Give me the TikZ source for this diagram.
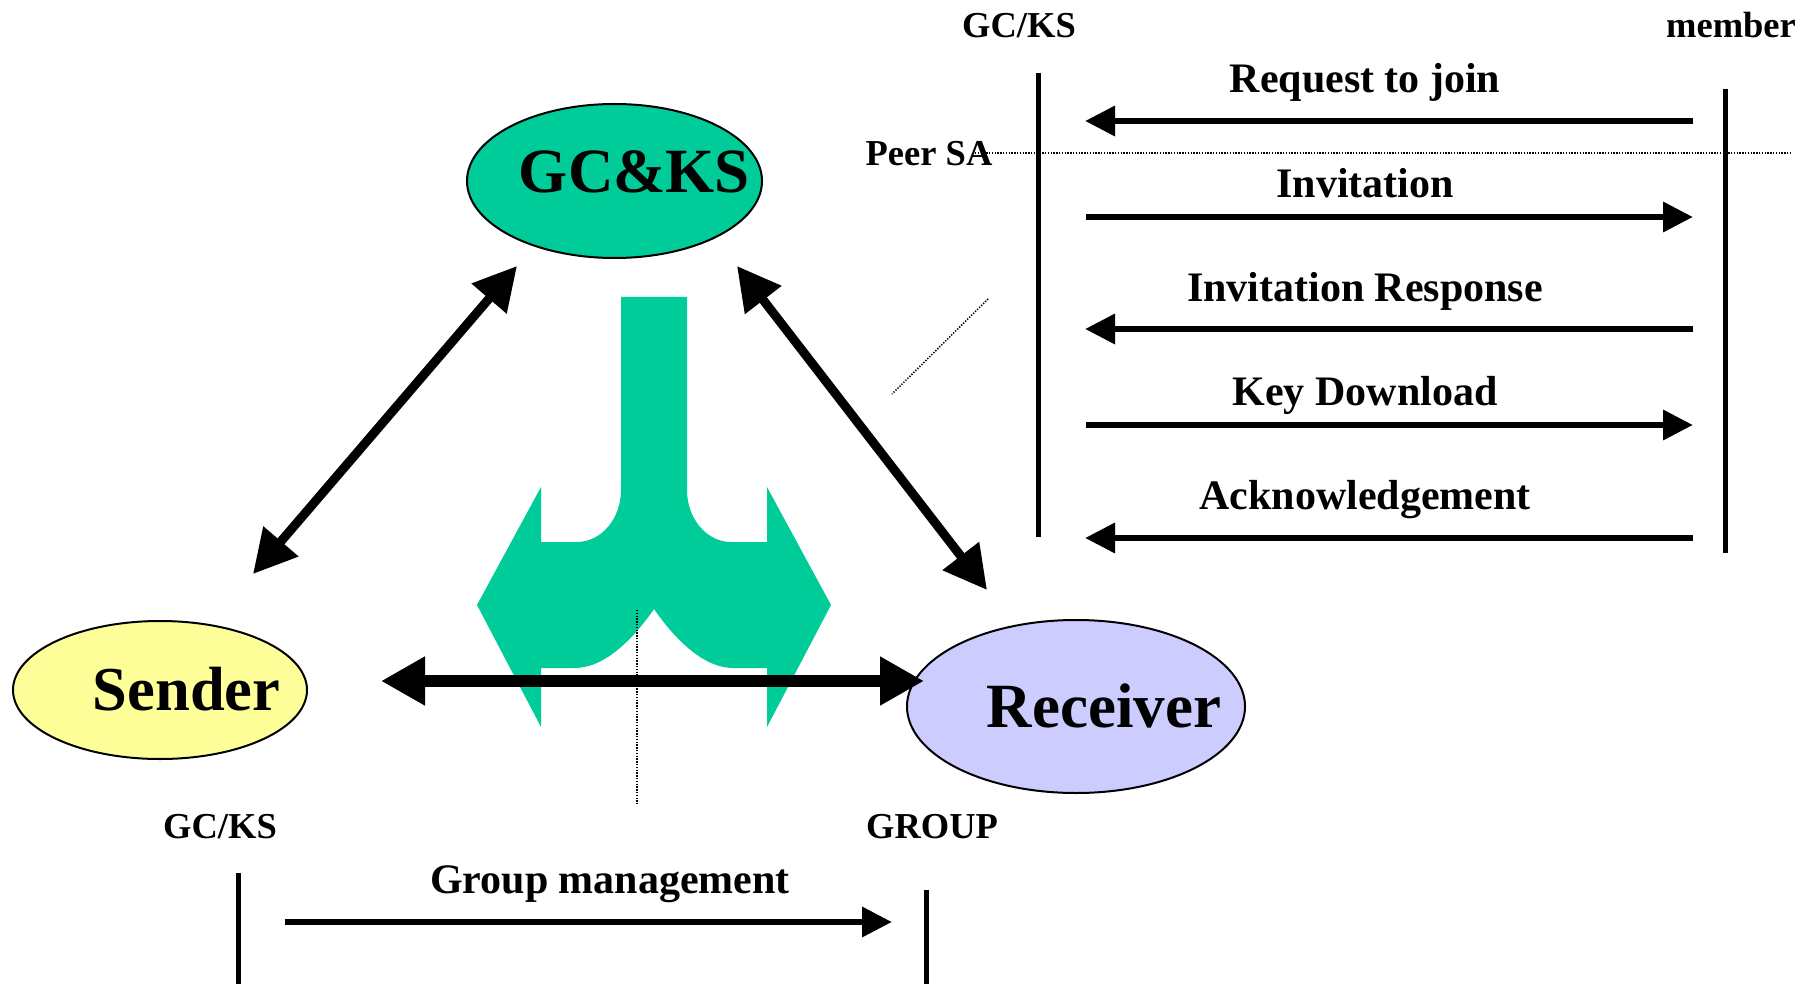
\documentclass[tikz,border=0pt]{standalone}
\usepackage{fontspec}
\setmainfont{Liberation Serif}
\usetikzlibrary{arrows.meta,shapes.geometric}
\definecolor{gteal}{HTML}{00CC99}
\definecolor{syellow}{HTML}{FFFF99}
\definecolor{rlav}{HTML}{CCCCFF}
\tikzset{
  oval/.style={draw=black, ellipse, line width=2pt, inner sep=0pt},
  bigtxt/.style={font=\fontsize{63}{63}\selectfont\bfseries, inner sep=0pt, anchor=base},
  msgtxt/.style={font=\fontsize{42}{42}\selectfont\bfseries, inner sep=0pt, anchor=base},
  lifetxt/.style={font=\fontsize{36.5}{36.5}\selectfont\bfseries, inner sep=0pt, anchor=base},
  lifeline/.style={line width=5pt},
  dotline/.style={line width=1.5pt, dash pattern=on 1.3pt off 1.5pt},
  dbl/.style={line width=9pt, {Triangle[length=43pt,width=44pt]}-{Triangle[length=43pt,width=44pt]}},
  hdbl/.style={line width=12pt, {Triangle[length=44pt,width=46pt]}-{Triangle[length=44pt,width=46pt]}},
  msg/.style={line width=6.5pt, -{Triangle[length=30pt,width=29pt]}}
}
\begin{document}
\begin{tikzpicture}[x=1pt,y=-1pt]
\useasboundingbox (0,0) rectangle (1818,984);

% green split arrow
\fill[gteal] (621,297) -- (621,490)
  .. controls (621,519) and (601,542) .. (577,542)
  -- (541,542) -- (541,487) -- (477,605) -- (541,727) -- (541,668) -- (575,668)
  .. controls (605,668) and (634,638) .. (654,609)
  .. controls (674,638) and (703,668) .. (733,668)
  -- (767,668) -- (767,727) -- (831,605) -- (767,487) -- (767,542) -- (731,542)
  .. controls (707,542) and (687,519) .. (687,490)
  -- (687,297) -- cycle;

% ellipses
\node[oval, fill=gteal, minimum width=295pt, minimum height=154pt] (gcks) at (614.5,181) {};
\node[oval, fill=syellow, minimum width=294pt, minimum height=138pt] (sender) at (160,690) {};
\node[oval, fill=rlav, minimum width=338pt, minimum height=173pt] (receiver) at (1076,706.5) {};

% dotted lines
\coordinate (psa1) at (975,153);
\coordinate (psa2) at (1791,153);
\coordinate (dg1) at (988,299);
\coordinate (dg2) at (892,394);
\coordinate (dv1) at (637,610);
\coordinate (dv2) at (637,804);
\draw[dotline] (psa1) -- (psa2);
\draw[dotline] (dg1) -- (dg2);
\draw[dotline] (dv1) -- (dv2);

% triangle arrows
\coordinate (sA) at (253,574);
\coordinate (gA) at (517,266);
\coordinate (gB) at (737,266);
\coordinate (rA) at (987,590);
\coordinate (sB) at (381,681);
\coordinate (rB) at (924,681);
\draw[dbl] (sA) -- (gA);
\draw[dbl] (gB) -- (rA);
\draw[hdbl] (sB) -- (rB);

% sequence diagram (top right)
\coordinate (l1t) at (1038,73);
\coordinate (l1b) at (1038,537);
\coordinate (l2t) at (1725,89);
\coordinate (l2b) at (1725,553);
\draw[lifeline] (l1t) -- (l1b);
\draw[lifeline] (l2t) -- (l2b);

\coordinate (m1r) at (1693,121); \coordinate (m1l) at (1085,121);
\coordinate (m2r) at (1693,217); \coordinate (m2l) at (1086,217);
\coordinate (m3r) at (1693,329); \coordinate (m3l) at (1085,329);
\coordinate (m4r) at (1693,425); \coordinate (m4l) at (1086,425);
\coordinate (m5r) at (1693,538); \coordinate (m5l) at (1085,538);
\draw[msg] (m1r) -- (m1l);
\draw[msg] (m2l) -- (m2r);
\draw[msg] (m3r) -- (m3l);
\draw[msg] (m4l) -- (m4r);
\draw[msg] (m5r) -- (m5l);

% sequence diagram (bottom)
\coordinate (b1t) at (238,873);
\coordinate (b1b) at (238,984);
\coordinate (b2t) at (926,890);
\coordinate (b2b) at (926,984);
\draw[lifeline] (b1t) -- (b1b);
\draw[lifeline] (b2t) -- (b2b);
\coordinate (gm1) at (285,922);
\coordinate (gm2) at (892,922);
\draw[msg] (gm1) -- (gm2);

% texts
\node[bigtxt] (tgcks) at (634.5,193) {GC\&KS};
\node[bigtxt, font=\fontsize{62.5}{62.5}\selectfont\bfseries] (tsender) at (186.5,710) {Sender};
\node[bigtxt] (treceiver) at (1104,727) {Receiver};

\node[lifetxt] (tgcks2) at (1019,38) {GC/KS};
\node[lifetxt] (tmember) at (1731,38) {member};
\node[lifetxt] (tpeer) at (929,166) {Peer SA};

\node[msgtxt] (t1) at (1365,93) {Request to join};
\node[msgtxt] (t2) at (1365,198) {Invitation};
\node[msgtxt] (t3) at (1365,302) {Invitation Response};
\node[msgtxt] (t4) at (1365,405) {Key Download};
\node[msgtxt] (t5) at (1365,509) {Acknowledgement};

\node[lifetxt] (tgcks3) at (220,838) {GC/KS};
\node[lifetxt] (tgroup) at (932,838) {GROUP};
\node[msgtxt] (tgm) at (610,893) {Group management};
\end{tikzpicture}
\end{document}
